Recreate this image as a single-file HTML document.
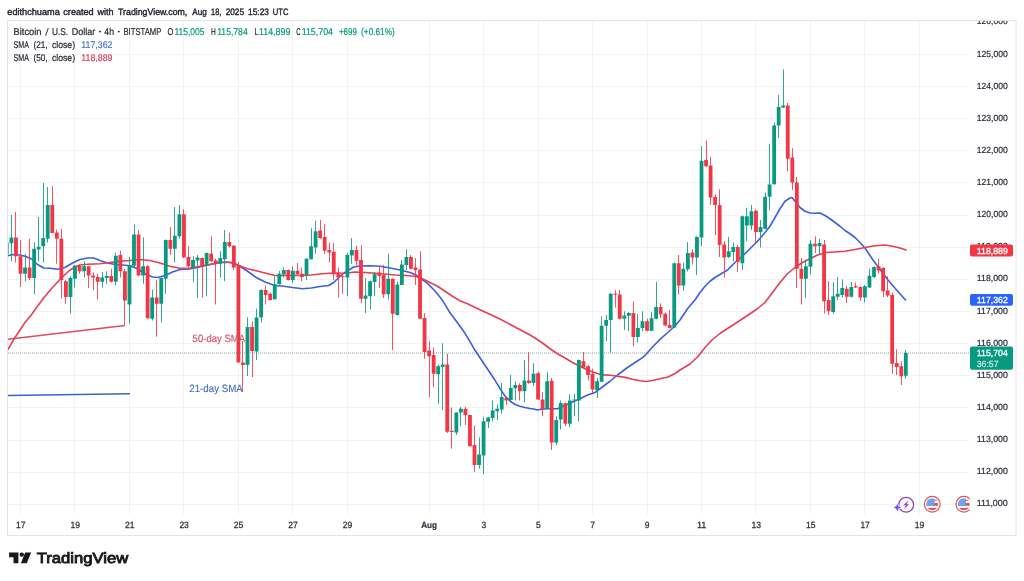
<!DOCTYPE html><html><head><meta charset="utf-8"><title>BTCUSD chart</title>
<style>html,body{margin:0;padding:0;background:#fff;}svg{display:block;will-change:transform}text{font-family:"Liberation Sans",sans-serif;text-rendering:geometricPrecision;}</style></head><body>
<svg width="1024" height="581" viewBox="0 0 1024 581">
<rect width="1024" height="581" fill="#fff"/>
<g stroke="#f2f2f2" stroke-width="1" shape-rendering="crispEdges">
<line x1="7.5" x2="969" y1="504.2" y2="504.2"/>
<line x1="7.5" x2="969" y1="472.1" y2="472.1"/>
<line x1="7.5" x2="969" y1="440.0" y2="440.0"/>
<line x1="7.5" x2="969" y1="407.8" y2="407.8"/>
<line x1="7.5" x2="969" y1="375.7" y2="375.7"/>
<line x1="7.5" x2="969" y1="343.6" y2="343.6"/>
<line x1="7.5" x2="969" y1="311.4" y2="311.4"/>
<line x1="7.5" x2="969" y1="279.3" y2="279.3"/>
<line x1="7.5" x2="969" y1="247.2" y2="247.2"/>
<line x1="7.5" x2="969" y1="215.1" y2="215.1"/>
<line x1="7.5" x2="969" y1="182.9" y2="182.9"/>
<line x1="7.5" x2="969" y1="150.8" y2="150.8"/>
<line x1="7.5" x2="969" y1="118.7" y2="118.7"/>
<line x1="7.5" x2="969" y1="86.5" y2="86.5"/>
<line x1="7.5" x2="969" y1="54.4" y2="54.4"/>
<line x1="20.5" x2="20.5" y1="20.5" y2="514"/>
<line x1="74.5" x2="74.5" y1="20.5" y2="514"/>
<line x1="129.5" x2="129.5" y1="20.5" y2="514"/>
<line x1="183.5" x2="183.5" y1="20.5" y2="514"/>
<line x1="238.5" x2="238.5" y1="20.5" y2="514"/>
<line x1="292.5" x2="292.5" y1="20.5" y2="514"/>
<line x1="347.5" x2="347.5" y1="20.5" y2="514"/>
<line x1="429.5" x2="429.5" y1="20.5" y2="514"/>
<line x1="483.5" x2="483.5" y1="20.5" y2="514"/>
<line x1="538.5" x2="538.5" y1="20.5" y2="514"/>
<line x1="592.5" x2="592.5" y1="20.5" y2="514"/>
<line x1="647.5" x2="647.5" y1="20.5" y2="514"/>
<line x1="701.5" x2="701.5" y1="20.5" y2="514"/>
<line x1="755.5" x2="755.5" y1="20.5" y2="514"/>
<line x1="810.5" x2="810.5" y1="20.5" y2="514"/>
<line x1="864.5" x2="864.5" y1="20.5" y2="514"/>
<line x1="919.5" x2="919.5" y1="20.5" y2="514"/>
</g>
<rect x="7.5" y="20.5" width="1008.5" height="515" fill="none" stroke="#e4e4e6" stroke-width="1"/>
<clipPath id="pane"><rect x="8" y="21" width="961.5" height="493"/></clipPath>
<g clip-path="url(#pane)">
<line x1="8" x2="969.5" y1="353" y2="353" stroke="#84aba0" stroke-width="1" stroke-dasharray="1 1"/>
<path d="M8.00 255.75 L12.50 254.50 L20.00 255.00 L25.00 256.25 L31.25 258.75 L37.50 264.50 L43.75 268.00 L50.00 268.25 L57.50 269.25 L65.00 267.50 L72.50 263.00 L80.00 259.50 L87.50 258.00 L93.75 258.00 L100.00 260.50 L107.50 263.00 L115.00 264.50 L122.50 265.00 L130.00 265.75 L137.50 268.75 L145.00 273.75 L152.50 277.00 L157.50 277.50 L165.00 275.50 L172.50 272.00 L180.00 269.50 L187.50 269.25 L195.00 268.00 L202.50 266.25 L210.00 264.50 L217.50 263.00 L225.00 262.00 L232.50 262.50 L238.75 265.50 L247.50 271.25 L256.25 277.50 L265.00 282.00 L275.00 285.50 L283.75 286.25 L292.50 287.50 L302.50 288.75 L311.25 288.00 L320.00 286.50 L328.75 285.50 L333.75 282.50 L338.75 277.50 L343.75 273.25 L348.75 270.00 L353.75 267.00 L360.00 266.00 L370.00 265.75 L380.00 266.25 L390.00 268.00 L400.00 270.00 L410.00 272.50 L416.25 275.00 L420.00 278.00 L427.50 283.38 L435.00 291.03 L442.50 300.30 L450.00 312.80 L457.50 322.80 L465.00 333.30 L470.00 341.55 L475.00 350.30 L480.00 357.80 L485.00 365.30 L490.00 372.80 L495.00 380.30 L500.00 388.45 L505.00 396.09 L510.00 400.99 L515.00 404.50 L520.00 406.25 L525.00 407.50 L530.00 408.50 L533.75 409.00 L537.50 410.00 L542.50 409.00 L550.00 408.75 L557.50 408.75 L565.00 405.50 L572.50 402.00 L580.00 398.75 L587.50 395.00 L595.00 392.50 L600.00 388.75 L605.00 385.00 L610.00 381.25 L617.50 375.00 L627.50 367.50 L635.00 362.50 L642.50 357.70 L645.00 355.50 L652.50 347.00 L660.00 339.40 L670.00 330.50 L675.00 326.00 L680.00 320.00 L687.50 308.75 L695.00 300.00 L700.00 292.50 L705.00 286.25 L710.00 281.25 L715.00 277.50 L720.00 274.50 L727.50 270.00 L735.00 262.50 L742.50 256.00 L750.00 248.75 L757.50 241.25 L765.00 232.50 L770.00 226.25 L775.00 217.50 L780.00 208.75 L785.00 201.25 L790.00 198.00 L792.00 197.50 L795.00 201.25 L800.00 207.50 L805.00 211.25 L810.00 213.00 L815.00 213.25 L820.00 213.00 L825.00 215.50 L830.00 218.75 L835.00 222.50 L840.00 226.25 L845.00 230.50 L850.00 233.75 L855.00 237.50 L860.00 242.50 L865.00 248.00 L873.00 260.00 L880.50 270.00 L888.00 280.00 L895.50 288.75 L905.50 300.00" fill="none" stroke="#3a5fe0" stroke-width="1.6" stroke-linejoin="round" stroke-linecap="round"/>
<path d="M8.00 349.25 L15.00 337.50 L25.00 322.50 L31.25 315.00 L37.50 306.25 L45.00 296.25 L52.50 287.50 L60.00 279.50 L65.00 274.50 L70.00 270.00 L75.00 267.00 L80.00 265.00 L87.50 264.25 L100.00 263.75 L110.00 262.50 L120.00 261.25 L130.00 260.50 L140.00 259.50 L150.00 260.50 L160.00 263.00 L170.00 266.25 L180.00 268.25 L190.00 268.00 L200.00 266.25 L210.00 264.50 L220.00 262.50 L230.00 262.50 L238.75 265.50 L247.50 268.75 L256.25 270.75 L265.00 273.00 L275.00 275.50 L283.75 275.50 L292.50 275.50 L302.50 275.50 L311.25 275.00 L320.00 274.00 L328.75 273.25 L337.50 273.25 L347.50 273.00 L355.00 272.00 L365.00 272.50 L375.00 273.25 L385.00 274.00 L395.00 275.00 L405.00 275.50 L415.00 276.25 L422.50 278.75 L430.00 282.50 L437.50 286.25 L445.00 291.25 L452.50 296.25 L460.00 300.75 L467.50 303.75 L476.25 308.00 L486.00 312.50 L500.00 319.00 L515.00 327.00 L530.00 335.00 L535.00 338.00 L542.50 343.00 L550.00 348.75 L557.50 353.75 L565.00 358.00 L572.50 362.50 L580.00 366.25 L587.50 370.00 L595.00 372.70 L602.50 374.90 L610.00 375.30 L617.50 376.20 L625.00 377.40 L632.50 379.20 L640.00 380.70 L646.00 381.50 L652.00 380.50 L660.00 378.70 L668.00 377.00 L675.00 373.50 L680.00 370.00 L690.00 364.00 L697.50 357.00 L705.00 347.50 L712.50 339.50 L720.00 333.50 L727.50 328.50 L735.00 323.75 L742.50 318.75 L750.00 313.75 L757.50 308.75 L765.00 302.50 L772.50 292.50 L780.00 282.50 L787.50 273.75 L795.00 267.50 L802.50 262.50 L810.00 258.75 L817.50 255.00 L826.00 252.50 L835.00 252.00 L845.00 251.25 L855.00 249.50 L865.00 247.50 L875.00 245.75 L885.00 245.00 L892.50 246.25 L900.00 248.00 L906.00 250.00" fill="none" stroke="#e63e55" stroke-width="1.6" stroke-linejoin="round" stroke-linecap="round"/>
<g>
<rect x="7" y="242.5" width="1.6" height="12" fill="#089981"/>
<rect x="11" y="215.00" width="1" height="46.25" fill="#089981" opacity="0.85"/>
<rect x="9.52" y="237.50" width="3.8" height="5.75" fill="#089981"/>
<rect x="15" y="212.00" width="1" height="50.50" fill="#F23645" opacity="0.85"/>
<rect x="14.06" y="237.50" width="3.8" height="18.75" fill="#F23645"/>
<rect x="20" y="240.00" width="1" height="47.00" fill="#F23645" opacity="0.85"/>
<rect x="18.60" y="256.25" width="3.8" height="17.50" fill="#F23645"/>
<rect x="25" y="253.75" width="1" height="27.50" fill="#089981" opacity="0.85"/>
<rect x="23.14" y="267.50" width="3.8" height="6.25" fill="#089981"/>
<rect x="29" y="238.75" width="1" height="41.25" fill="#F23645" opacity="0.85"/>
<rect x="27.68" y="267.50" width="3.8" height="10.50" fill="#F23645"/>
<rect x="34" y="242.50" width="1" height="51.75" fill="#089981" opacity="0.85"/>
<rect x="32.22" y="248.75" width="3.8" height="29.25" fill="#089981"/>
<rect x="38" y="217.00" width="1" height="44.25" fill="#089981" opacity="0.85"/>
<rect x="36.76" y="246.75" width="3.8" height="2.75" fill="#089981"/>
<rect x="43" y="183.00" width="1" height="79.50" fill="#089981" opacity="0.85"/>
<rect x="41.30" y="238.00" width="3.8" height="8.25" fill="#089981"/>
<rect x="47" y="187.00" width="1" height="55.50" fill="#089981" opacity="0.85"/>
<rect x="45.84" y="205.00" width="3.8" height="33.75" fill="#089981"/>
<rect x="52" y="186.25" width="1" height="46.75" fill="#F23645" opacity="0.85"/>
<rect x="50.38" y="205.00" width="3.8" height="28.00" fill="#F23645"/>
<rect x="56" y="229.50" width="1" height="34.25" fill="#F23645" opacity="0.85"/>
<rect x="54.92" y="232.50" width="3.8" height="6.25" fill="#F23645"/>
<rect x="61" y="228.75" width="1" height="70.00" fill="#F23645" opacity="0.85"/>
<rect x="59.46" y="238.75" width="3.8" height="41.25" fill="#F23645"/>
<rect x="65" y="280.00" width="1" height="23.75" fill="#F23645" opacity="0.85"/>
<rect x="64.00" y="281.25" width="3.8" height="15.75" fill="#F23645"/>
<rect x="70" y="276.25" width="1" height="37.50" fill="#089981" opacity="0.85"/>
<rect x="68.54" y="278.00" width="3.8" height="19.00" fill="#089981"/>
<rect x="74" y="265.00" width="1" height="22.50" fill="#089981" opacity="0.85"/>
<rect x="73.08" y="265.75" width="3.8" height="13.00" fill="#089981"/>
<rect x="79" y="264.50" width="1" height="9.25" fill="#F23645" opacity="0.85"/>
<rect x="77.62" y="265.75" width="3.8" height="5.50" fill="#F23645"/>
<rect x="84" y="261.25" width="1" height="16.25" fill="#089981" opacity="0.85"/>
<rect x="82.16" y="266.25" width="3.8" height="5.00" fill="#089981"/>
<rect x="88" y="266.25" width="1" height="21.75" fill="#F23645" opacity="0.85"/>
<rect x="86.70" y="266.25" width="3.8" height="9.25" fill="#F23645"/>
<rect x="93" y="272.50" width="1" height="17.50" fill="#F23645" opacity="0.85"/>
<rect x="91.24" y="275.50" width="3.8" height="2.00" fill="#F23645"/>
<rect x="97" y="273.75" width="1" height="25.75" fill="#F23645" opacity="0.85"/>
<rect x="95.78" y="277.00" width="3.8" height="4.75" fill="#F23645"/>
<rect x="102" y="272.00" width="1" height="15.50" fill="#089981" opacity="0.85"/>
<rect x="100.32" y="277.50" width="3.8" height="4.25" fill="#089981"/>
<rect x="106" y="271.25" width="1" height="12.50" fill="#089981" opacity="0.85"/>
<rect x="104.86" y="276.00" width="3.8" height="2.00" fill="#089981"/>
<rect x="111" y="268.75" width="1" height="13.75" fill="#F23645" opacity="0.85"/>
<rect x="109.40" y="276.00" width="3.8" height="5.75" fill="#F23645"/>
<rect x="115" y="252.50" width="1" height="33.00" fill="#089981" opacity="0.85"/>
<rect x="113.94" y="255.75" width="3.8" height="26.00" fill="#089981"/>
<rect x="120" y="250.50" width="1" height="27.00" fill="#F23645" opacity="0.85"/>
<rect x="118.48" y="255.00" width="3.8" height="16.25" fill="#F23645"/>
<rect x="124" y="268.75" width="1" height="56.75" fill="#F23645" opacity="0.85"/>
<rect x="123.02" y="271.25" width="3.8" height="29.25" fill="#F23645"/>
<rect x="129" y="257.00" width="1" height="66.75" fill="#089981" opacity="0.85"/>
<rect x="127.56" y="265.00" width="3.8" height="39.50" fill="#089981"/>
<rect x="134" y="224.50" width="1" height="43.00" fill="#089981" opacity="0.85"/>
<rect x="132.10" y="234.50" width="3.8" height="31.25" fill="#089981"/>
<rect x="138" y="230.00" width="1" height="46.25" fill="#F23645" opacity="0.85"/>
<rect x="136.64" y="234.50" width="3.8" height="41.00" fill="#F23645"/>
<rect x="143" y="237.50" width="1" height="46.25" fill="#089981" opacity="0.85"/>
<rect x="141.18" y="266.25" width="3.8" height="9.25" fill="#089981"/>
<rect x="147" y="265.00" width="1" height="53.50" fill="#F23645" opacity="0.85"/>
<rect x="145.72" y="266.25" width="3.8" height="52.00" fill="#F23645"/>
<rect x="152" y="289.50" width="1" height="31.00" fill="#089981" opacity="0.85"/>
<rect x="150.26" y="297.50" width="3.8" height="21.25" fill="#089981"/>
<rect x="156" y="280.00" width="1" height="56.75" fill="#F23645" opacity="0.85"/>
<rect x="154.80" y="297.50" width="3.8" height="6.25" fill="#F23645"/>
<rect x="161" y="277.50" width="1" height="45.00" fill="#089981" opacity="0.85"/>
<rect x="159.34" y="278.00" width="3.8" height="25.75" fill="#089981"/>
<rect x="165" y="239.50" width="1" height="54.25" fill="#089981" opacity="0.85"/>
<rect x="163.88" y="240.00" width="3.8" height="38.75" fill="#089981"/>
<rect x="170" y="227.00" width="1" height="28.00" fill="#F23645" opacity="0.85"/>
<rect x="168.42" y="240.00" width="3.8" height="8.75" fill="#F23645"/>
<rect x="174" y="207.00" width="1" height="55.50" fill="#089981" opacity="0.85"/>
<rect x="172.96" y="235.75" width="3.8" height="13.00" fill="#089981"/>
<rect x="179" y="205.00" width="1" height="33.75" fill="#089981" opacity="0.85"/>
<rect x="177.50" y="214.25" width="3.8" height="22.00" fill="#089981"/>
<rect x="183" y="209.25" width="1" height="48.75" fill="#F23645" opacity="0.85"/>
<rect x="182.04" y="214.25" width="3.8" height="43.25" fill="#F23645"/>
<rect x="188" y="246.25" width="1" height="21.25" fill="#F23645" opacity="0.85"/>
<rect x="186.58" y="257.00" width="3.8" height="9.25" fill="#F23645"/>
<rect x="193" y="256.25" width="1" height="25.50" fill="#089981" opacity="0.85"/>
<rect x="191.12" y="260.00" width="3.8" height="7.00" fill="#089981"/>
<rect x="197" y="255.00" width="1" height="43.00" fill="#089981" opacity="0.85"/>
<rect x="195.66" y="257.50" width="3.8" height="3.00" fill="#089981"/>
<rect x="202" y="257.50" width="1" height="40.00" fill="#F23645" opacity="0.85"/>
<rect x="200.20" y="258.00" width="3.8" height="8.25" fill="#F23645"/>
<rect x="206" y="252.50" width="1" height="43.75" fill="#089981" opacity="0.85"/>
<rect x="204.74" y="253.00" width="3.8" height="12.00" fill="#089981"/>
<rect x="211" y="236.25" width="1" height="25.75" fill="#F23645" opacity="0.85"/>
<rect x="209.28" y="253.75" width="3.8" height="7.50" fill="#F23645"/>
<rect x="215" y="258.75" width="1" height="45.75" fill="#F23645" opacity="0.85"/>
<rect x="213.82" y="260.50" width="3.8" height="3.25" fill="#F23645"/>
<rect x="220" y="251.25" width="1" height="26.25" fill="#089981" opacity="0.85"/>
<rect x="218.36" y="258.00" width="3.8" height="5.75" fill="#089981"/>
<rect x="224" y="230.00" width="1" height="51.25" fill="#089981" opacity="0.85"/>
<rect x="222.90" y="242.00" width="3.8" height="17.25" fill="#089981"/>
<rect x="229" y="232.50" width="1" height="15.00" fill="#F23645" opacity="0.85"/>
<rect x="227.44" y="242.00" width="3.8" height="4.25" fill="#F23645"/>
<rect x="233" y="245.00" width="1" height="25.00" fill="#F23645" opacity="0.85"/>
<rect x="231.98" y="245.75" width="3.8" height="21.75" fill="#F23645"/>
<rect x="238" y="262.00" width="1" height="100.50" fill="#F23645" opacity="0.85"/>
<rect x="236.52" y="266.00" width="3.8" height="96.50" fill="#F23645"/>
<rect x="242" y="341.00" width="1" height="51.00" fill="#F23645" opacity="0.85"/>
<rect x="241.06" y="362.50" width="3.8" height="2.50" fill="#F23645"/>
<rect x="247" y="317.50" width="1" height="58.50" fill="#089981" opacity="0.85"/>
<rect x="245.60" y="327.00" width="3.8" height="38.00" fill="#089981"/>
<rect x="252" y="321.50" width="1" height="55.50" fill="#F23645" opacity="0.85"/>
<rect x="250.14" y="327.00" width="3.8" height="24.00" fill="#F23645"/>
<rect x="256" y="308.75" width="1" height="51.25" fill="#089981" opacity="0.85"/>
<rect x="254.68" y="317.50" width="3.8" height="34.00" fill="#089981"/>
<rect x="261" y="289.25" width="1" height="33.25" fill="#089981" opacity="0.85"/>
<rect x="259.22" y="290.00" width="3.8" height="27.50" fill="#089981"/>
<rect x="265" y="285.75" width="1" height="18.75" fill="#F23645" opacity="0.85"/>
<rect x="263.76" y="290.00" width="3.8" height="5.00" fill="#F23645"/>
<rect x="270" y="292.50" width="1" height="8.00" fill="#F23645" opacity="0.85"/>
<rect x="268.30" y="293.75" width="3.8" height="6.25" fill="#F23645"/>
<rect x="274" y="276.25" width="1" height="23.25" fill="#089981" opacity="0.85"/>
<rect x="272.84" y="284.25" width="3.8" height="15.00" fill="#089981"/>
<rect x="279" y="270.75" width="1" height="13.75" fill="#089981" opacity="0.85"/>
<rect x="277.38" y="273.75" width="3.8" height="10.50" fill="#089981"/>
<rect x="283" y="267.50" width="1" height="10.00" fill="#089981" opacity="0.85"/>
<rect x="281.92" y="270.00" width="3.8" height="4.50" fill="#089981"/>
<rect x="288" y="269.50" width="1" height="11.00" fill="#F23645" opacity="0.85"/>
<rect x="286.46" y="270.00" width="3.8" height="10.00" fill="#F23645"/>
<rect x="292" y="266.25" width="1" height="16.75" fill="#089981" opacity="0.85"/>
<rect x="291.00" y="270.75" width="3.8" height="9.25" fill="#089981"/>
<rect x="297" y="263.00" width="1" height="12.00" fill="#F23645" opacity="0.85"/>
<rect x="295.54" y="270.75" width="3.8" height="3.50" fill="#F23645"/>
<rect x="301" y="267.50" width="1" height="13.75" fill="#F23645" opacity="0.85"/>
<rect x="300.08" y="273.75" width="3.8" height="3.25" fill="#F23645"/>
<rect x="306" y="258.25" width="1" height="21.75" fill="#089981" opacity="0.85"/>
<rect x="304.62" y="258.75" width="3.8" height="16.25" fill="#089981"/>
<rect x="311" y="228.25" width="1" height="31.25" fill="#089981" opacity="0.85"/>
<rect x="309.16" y="246.25" width="3.8" height="13.00" fill="#089981"/>
<rect x="315" y="220.75" width="1" height="33.00" fill="#089981" opacity="0.85"/>
<rect x="313.70" y="231.25" width="3.8" height="16.25" fill="#089981"/>
<rect x="320" y="220.00" width="1" height="18.75" fill="#F23645" opacity="0.85"/>
<rect x="318.24" y="230.50" width="3.8" height="7.50" fill="#F23645"/>
<rect x="324" y="224.25" width="1" height="29.50" fill="#F23645" opacity="0.85"/>
<rect x="322.78" y="237.00" width="3.8" height="13.75" fill="#F23645"/>
<rect x="329" y="242.50" width="1" height="20.00" fill="#F23645" opacity="0.85"/>
<rect x="327.32" y="250.00" width="3.8" height="2.50" fill="#F23645"/>
<rect x="333" y="243.00" width="1" height="37.00" fill="#F23645" opacity="0.85"/>
<rect x="331.86" y="251.75" width="3.8" height="22.50" fill="#F23645"/>
<rect x="338" y="267.50" width="1" height="30.00" fill="#F23645" opacity="0.85"/>
<rect x="336.40" y="272.50" width="3.8" height="5.00" fill="#F23645"/>
<rect x="342" y="273.00" width="1" height="20.75" fill="#F23645" opacity="0.85"/>
<rect x="340.94" y="276.25" width="3.8" height="1.00" fill="#F23645"/>
<rect x="347" y="253.00" width="1" height="43.25" fill="#089981" opacity="0.85"/>
<rect x="345.48" y="255.00" width="3.8" height="22.50" fill="#089981"/>
<rect x="351" y="238.00" width="1" height="25.75" fill="#089981" opacity="0.85"/>
<rect x="350.02" y="250.00" width="3.8" height="5.50" fill="#089981"/>
<rect x="356" y="245.50" width="1" height="20.00" fill="#F23645" opacity="0.85"/>
<rect x="354.56" y="250.00" width="3.8" height="10.75" fill="#F23645"/>
<rect x="361" y="245.00" width="1" height="58.00" fill="#F23645" opacity="0.85"/>
<rect x="359.10" y="260.00" width="3.8" height="38.75" fill="#F23645"/>
<rect x="365" y="278.00" width="1" height="35.00" fill="#089981" opacity="0.85"/>
<rect x="363.64" y="295.50" width="3.8" height="3.25" fill="#089981"/>
<rect x="370" y="280.75" width="1" height="28.50" fill="#089981" opacity="0.85"/>
<rect x="368.18" y="281.25" width="3.8" height="15.00" fill="#089981"/>
<rect x="374" y="272.00" width="1" height="24.25" fill="#089981" opacity="0.85"/>
<rect x="372.72" y="274.25" width="3.8" height="7.75" fill="#089981"/>
<rect x="379" y="266.25" width="1" height="21.75" fill="#F23645" opacity="0.85"/>
<rect x="377.26" y="272.50" width="3.8" height="3.25" fill="#F23645"/>
<rect x="383" y="265.00" width="1" height="33.00" fill="#F23645" opacity="0.85"/>
<rect x="381.80" y="275.00" width="3.8" height="19.25" fill="#F23645"/>
<rect x="388" y="253.75" width="1" height="45.75" fill="#089981" opacity="0.85"/>
<rect x="386.34" y="278.75" width="3.8" height="15.50" fill="#089981"/>
<rect x="392" y="278.25" width="1" height="71.75" fill="#F23645" opacity="0.85"/>
<rect x="390.88" y="278.75" width="3.8" height="35.00" fill="#F23645"/>
<rect x="397" y="282.00" width="1" height="33.50" fill="#089981" opacity="0.85"/>
<rect x="395.42" y="284.50" width="3.8" height="30.50" fill="#089981"/>
<rect x="401" y="260.00" width="1" height="25.00" fill="#089981" opacity="0.85"/>
<rect x="399.96" y="264.50" width="3.8" height="20.50" fill="#089981"/>
<rect x="406" y="249.25" width="1" height="20.75" fill="#089981" opacity="0.85"/>
<rect x="404.50" y="257.00" width="3.8" height="8.00" fill="#089981"/>
<rect x="410" y="255.00" width="1" height="14.50" fill="#F23645" opacity="0.85"/>
<rect x="409.04" y="257.00" width="3.8" height="11.75" fill="#F23645"/>
<rect x="415" y="258.00" width="1" height="27.00" fill="#F23645" opacity="0.85"/>
<rect x="413.58" y="267.50" width="3.8" height="2.50" fill="#F23645"/>
<rect x="420" y="251.25" width="1" height="67.50" fill="#F23645" opacity="0.85"/>
<rect x="418.12" y="269.50" width="3.8" height="49.25" fill="#F23645"/>
<rect x="424" y="313.00" width="1" height="45.75" fill="#F23645" opacity="0.85"/>
<rect x="422.66" y="318.00" width="3.8" height="34.00" fill="#F23645"/>
<rect x="429" y="341.25" width="1" height="55.75" fill="#F23645" opacity="0.85"/>
<rect x="427.20" y="350.50" width="3.8" height="5.75" fill="#F23645"/>
<rect x="433" y="347.50" width="1" height="39.50" fill="#F23645" opacity="0.85"/>
<rect x="431.74" y="355.00" width="3.8" height="18.75" fill="#F23645"/>
<rect x="438" y="364.50" width="1" height="39.25" fill="#089981" opacity="0.85"/>
<rect x="436.28" y="366.25" width="3.8" height="8.00" fill="#089981"/>
<rect x="442" y="343.25" width="1" height="66.75" fill="#089981" opacity="0.85"/>
<rect x="440.82" y="364.50" width="3.8" height="2.50" fill="#089981"/>
<rect x="447" y="353.75" width="1" height="79.25" fill="#F23645" opacity="0.85"/>
<rect x="445.36" y="364.50" width="3.8" height="67.25" fill="#F23645"/>
<rect x="451" y="407.50" width="1" height="41.25" fill="#F23645" opacity="0.85"/>
<rect x="449.90" y="430.75" width="3.8" height="1.25" fill="#F23645"/>
<rect x="456" y="412.00" width="1" height="23.00" fill="#089981" opacity="0.85"/>
<rect x="454.44" y="412.50" width="3.8" height="20.00" fill="#089981"/>
<rect x="460" y="407.00" width="1" height="19.25" fill="#089981" opacity="0.85"/>
<rect x="458.98" y="408.75" width="3.8" height="3.75" fill="#089981"/>
<rect x="465" y="406.75" width="1" height="18.25" fill="#F23645" opacity="0.85"/>
<rect x="463.52" y="408.75" width="3.8" height="6.25" fill="#F23645"/>
<rect x="469" y="414.50" width="1" height="31.75" fill="#F23645" opacity="0.85"/>
<rect x="468.06" y="415.00" width="3.8" height="31.25" fill="#F23645"/>
<rect x="474" y="425.50" width="1" height="46.50" fill="#F23645" opacity="0.85"/>
<rect x="472.60" y="445.00" width="3.8" height="20.00" fill="#F23645"/>
<rect x="479" y="437.50" width="1" height="31.25" fill="#089981" opacity="0.85"/>
<rect x="477.14" y="454.50" width="3.8" height="10.50" fill="#089981"/>
<rect x="483" y="416.75" width="1" height="57.50" fill="#089981" opacity="0.85"/>
<rect x="481.68" y="421.25" width="3.8" height="34.25" fill="#089981"/>
<rect x="488" y="417.00" width="1" height="11.00" fill="#089981" opacity="0.85"/>
<rect x="486.22" y="417.50" width="3.8" height="4.25" fill="#089981"/>
<rect x="492" y="400.50" width="1" height="20.75" fill="#089981" opacity="0.85"/>
<rect x="490.76" y="410.50" width="3.8" height="7.50" fill="#089981"/>
<rect x="497" y="404.50" width="1" height="15.50" fill="#089981" opacity="0.85"/>
<rect x="495.30" y="408.75" width="3.8" height="2.50" fill="#089981"/>
<rect x="501" y="383.00" width="1" height="30.75" fill="#089981" opacity="0.85"/>
<rect x="499.84" y="397.00" width="3.8" height="12.50" fill="#089981"/>
<rect x="506" y="397.50" width="1" height="7.50" fill="#F23645" opacity="0.85"/>
<rect x="504.38" y="398.00" width="3.8" height="2.50" fill="#F23645"/>
<rect x="510" y="375.00" width="1" height="25.50" fill="#089981" opacity="0.85"/>
<rect x="508.92" y="388.00" width="3.8" height="12.00" fill="#089981"/>
<rect x="515" y="381.25" width="1" height="19.25" fill="#089981" opacity="0.85"/>
<rect x="513.46" y="385.00" width="3.8" height="3.25" fill="#089981"/>
<rect x="519" y="383.25" width="1" height="17.25" fill="#F23645" opacity="0.85"/>
<rect x="518.00" y="385.00" width="3.8" height="6.25" fill="#F23645"/>
<rect x="524" y="360.00" width="1" height="42.50" fill="#089981" opacity="0.85"/>
<rect x="522.54" y="380.50" width="3.8" height="10.75" fill="#089981"/>
<rect x="528" y="352.00" width="1" height="31.75" fill="#F23645" opacity="0.85"/>
<rect x="527.08" y="380.50" width="3.8" height="2.50" fill="#F23645"/>
<rect x="533" y="363.25" width="1" height="23.00" fill="#089981" opacity="0.85"/>
<rect x="531.62" y="373.75" width="3.8" height="9.25" fill="#089981"/>
<rect x="538" y="372.00" width="1" height="28.00" fill="#F23645" opacity="0.85"/>
<rect x="536.16" y="373.25" width="3.8" height="26.25" fill="#F23645"/>
<rect x="542" y="392.00" width="1" height="24.25" fill="#F23645" opacity="0.85"/>
<rect x="540.70" y="399.50" width="3.8" height="9.75" fill="#F23645"/>
<rect x="547" y="372.50" width="1" height="36.75" fill="#089981" opacity="0.85"/>
<rect x="545.24" y="381.25" width="3.8" height="27.50" fill="#089981"/>
<rect x="551" y="378.00" width="1" height="72.00" fill="#F23645" opacity="0.85"/>
<rect x="549.78" y="380.75" width="3.8" height="61.75" fill="#F23645"/>
<rect x="556" y="416.25" width="1" height="28.75" fill="#089981" opacity="0.85"/>
<rect x="554.32" y="420.00" width="3.8" height="22.50" fill="#089981"/>
<rect x="560" y="400.50" width="1" height="29.00" fill="#089981" opacity="0.85"/>
<rect x="558.86" y="403.00" width="3.8" height="16.50" fill="#089981"/>
<rect x="565" y="402.50" width="1" height="23.75" fill="#F23645" opacity="0.85"/>
<rect x="563.40" y="403.25" width="3.8" height="20.50" fill="#F23645"/>
<rect x="569" y="394.50" width="1" height="32.50" fill="#089981" opacity="0.85"/>
<rect x="567.94" y="400.50" width="3.8" height="23.25" fill="#089981"/>
<rect x="574" y="393.75" width="1" height="22.50" fill="#089981" opacity="0.85"/>
<rect x="572.48" y="399.50" width="3.8" height="1.00" fill="#089981"/>
<rect x="578" y="359.50" width="1" height="61.75" fill="#089981" opacity="0.85"/>
<rect x="577.02" y="360.00" width="3.8" height="40.50" fill="#089981"/>
<rect x="583" y="352.00" width="1" height="16.00" fill="#F23645" opacity="0.85"/>
<rect x="581.56" y="361.25" width="3.8" height="6.25" fill="#F23645"/>
<rect x="588" y="365.00" width="1" height="15.50" fill="#F23645" opacity="0.85"/>
<rect x="586.10" y="366.25" width="3.8" height="8.75" fill="#F23645"/>
<rect x="592" y="368.75" width="1" height="24.25" fill="#F23645" opacity="0.85"/>
<rect x="590.64" y="373.75" width="3.8" height="15.75" fill="#F23645"/>
<rect x="597" y="378.00" width="1" height="20.00" fill="#089981" opacity="0.85"/>
<rect x="595.18" y="381.25" width="3.8" height="8.75" fill="#089981"/>
<rect x="601" y="316.25" width="1" height="65.75" fill="#089981" opacity="0.85"/>
<rect x="599.72" y="325.75" width="3.8" height="56.00" fill="#089981"/>
<rect x="606" y="315.00" width="1" height="26.25" fill="#089981" opacity="0.85"/>
<rect x="604.26" y="320.00" width="3.8" height="5.75" fill="#089981"/>
<rect x="610" y="293.00" width="1" height="59.50" fill="#089981" opacity="0.85"/>
<rect x="608.80" y="293.75" width="3.8" height="26.25" fill="#089981"/>
<rect x="615" y="290.00" width="1" height="17.50" fill="#F23645" opacity="0.85"/>
<rect x="613.34" y="293.75" width="3.8" height="1.00" fill="#F23645"/>
<rect x="619" y="290.00" width="1" height="29.50" fill="#F23645" opacity="0.85"/>
<rect x="617.88" y="294.50" width="3.8" height="24.25" fill="#F23645"/>
<rect x="624" y="311.25" width="1" height="18.75" fill="#089981" opacity="0.85"/>
<rect x="622.42" y="315.50" width="3.8" height="3.25" fill="#089981"/>
<rect x="628" y="312.00" width="1" height="19.25" fill="#089981" opacity="0.85"/>
<rect x="626.96" y="313.00" width="3.8" height="2.75" fill="#089981"/>
<rect x="633" y="301.25" width="1" height="45.00" fill="#F23645" opacity="0.85"/>
<rect x="631.50" y="313.00" width="3.8" height="24.00" fill="#F23645"/>
<rect x="637" y="313.75" width="1" height="28.75" fill="#089981" opacity="0.85"/>
<rect x="636.04" y="328.00" width="3.8" height="9.00" fill="#089981"/>
<rect x="642" y="311.25" width="1" height="20.00" fill="#089981" opacity="0.85"/>
<rect x="640.58" y="321.25" width="3.8" height="6.75" fill="#089981"/>
<rect x="647" y="318.75" width="1" height="12.50" fill="#F23645" opacity="0.85"/>
<rect x="645.12" y="321.25" width="3.8" height="9.50" fill="#F23645"/>
<rect x="651" y="312.00" width="1" height="19.25" fill="#089981" opacity="0.85"/>
<rect x="649.66" y="318.25" width="3.8" height="12.50" fill="#089981"/>
<rect x="656" y="281.75" width="1" height="37.50" fill="#089981" opacity="0.85"/>
<rect x="654.20" y="307.00" width="3.8" height="11.75" fill="#089981"/>
<rect x="660" y="303.25" width="1" height="14.75" fill="#F23645" opacity="0.85"/>
<rect x="658.74" y="307.00" width="3.8" height="7.25" fill="#F23645"/>
<rect x="665" y="312.50" width="1" height="13.75" fill="#F23645" opacity="0.85"/>
<rect x="663.28" y="313.75" width="3.8" height="11.75" fill="#F23645"/>
<rect x="669" y="310.00" width="1" height="18.75" fill="#F23645" opacity="0.85"/>
<rect x="667.82" y="325.00" width="3.8" height="3.00" fill="#F23645"/>
<rect x="674" y="262.50" width="1" height="65.50" fill="#089981" opacity="0.85"/>
<rect x="672.36" y="263.25" width="3.8" height="64.25" fill="#089981"/>
<rect x="678" y="255.00" width="1" height="39.50" fill="#F23645" opacity="0.85"/>
<rect x="676.90" y="263.25" width="3.8" height="22.25" fill="#F23645"/>
<rect x="683" y="262.50" width="1" height="28.25" fill="#089981" opacity="0.85"/>
<rect x="681.44" y="268.75" width="3.8" height="16.75" fill="#089981"/>
<rect x="687" y="242.00" width="1" height="29.25" fill="#089981" opacity="0.85"/>
<rect x="685.98" y="253.00" width="3.8" height="16.25" fill="#089981"/>
<rect x="692" y="249.50" width="1" height="15.00" fill="#F23645" opacity="0.85"/>
<rect x="690.52" y="252.50" width="3.8" height="5.00" fill="#F23645"/>
<rect x="696" y="236.25" width="1" height="38.75" fill="#089981" opacity="0.85"/>
<rect x="695.06" y="237.00" width="3.8" height="20.50" fill="#089981"/>
<rect x="701" y="146.25" width="1" height="100.00" fill="#089981" opacity="0.85"/>
<rect x="699.60" y="160.75" width="3.8" height="76.75" fill="#089981"/>
<rect x="706" y="140.50" width="1" height="26.50" fill="#F23645" opacity="0.85"/>
<rect x="704.14" y="160.00" width="3.8" height="6.25" fill="#F23645"/>
<rect x="710" y="157.00" width="1" height="48.00" fill="#F23645" opacity="0.85"/>
<rect x="708.68" y="165.50" width="3.8" height="32.00" fill="#F23645"/>
<rect x="715" y="194.50" width="1" height="40.50" fill="#F23645" opacity="0.85"/>
<rect x="713.22" y="197.00" width="3.8" height="8.00" fill="#F23645"/>
<rect x="719" y="189.50" width="1" height="67.50" fill="#F23645" opacity="0.85"/>
<rect x="717.76" y="205.00" width="3.8" height="40.00" fill="#F23645"/>
<rect x="724" y="241.25" width="1" height="36.25" fill="#F23645" opacity="0.85"/>
<rect x="722.30" y="244.50" width="3.8" height="13.00" fill="#F23645"/>
<rect x="728" y="237.00" width="1" height="21.00" fill="#089981" opacity="0.85"/>
<rect x="726.84" y="251.25" width="3.8" height="5.75" fill="#089981"/>
<rect x="733" y="242.50" width="1" height="18.75" fill="#089981" opacity="0.85"/>
<rect x="731.38" y="247.00" width="3.8" height="5.00" fill="#089981"/>
<rect x="737" y="245.00" width="1" height="27.00" fill="#F23645" opacity="0.85"/>
<rect x="735.92" y="247.00" width="3.8" height="15.00" fill="#F23645"/>
<rect x="742" y="215.50" width="1" height="54.50" fill="#089981" opacity="0.85"/>
<rect x="740.46" y="216.25" width="3.8" height="47.00" fill="#089981"/>
<rect x="746" y="208.00" width="1" height="33.25" fill="#089981" opacity="0.85"/>
<rect x="745.00" y="216.25" width="3.8" height="9.25" fill="#089981"/>
<rect x="751" y="205.00" width="1" height="25.00" fill="#089981" opacity="0.85"/>
<rect x="749.54" y="211.25" width="3.8" height="14.25" fill="#089981"/>
<rect x="755" y="209.50" width="1" height="34.25" fill="#F23645" opacity="0.85"/>
<rect x="754.08" y="210.75" width="3.8" height="21.25" fill="#F23645"/>
<rect x="760" y="220.00" width="1" height="27.50" fill="#089981" opacity="0.85"/>
<rect x="758.62" y="227.00" width="3.8" height="5.00" fill="#089981"/>
<rect x="765" y="192.50" width="1" height="37.00" fill="#089981" opacity="0.85"/>
<rect x="763.16" y="196.75" width="3.8" height="32.00" fill="#089981"/>
<rect x="769" y="143.75" width="1" height="66.25" fill="#089981" opacity="0.85"/>
<rect x="767.70" y="184.50" width="3.8" height="12.25" fill="#089981"/>
<rect x="774" y="122.50" width="1" height="62.00" fill="#089981" opacity="0.85"/>
<rect x="772.24" y="125.50" width="3.8" height="58.75" fill="#089981"/>
<rect x="778" y="95.00" width="1" height="43.00" fill="#089981" opacity="0.85"/>
<rect x="776.78" y="107.00" width="3.8" height="18.50" fill="#089981"/>
<rect x="783" y="69.50" width="1" height="38.50" fill="#089981" opacity="0.85"/>
<rect x="781.32" y="105.50" width="3.8" height="2.00" fill="#089981"/>
<rect x="787" y="103.00" width="1" height="68.25" fill="#F23645" opacity="0.85"/>
<rect x="785.86" y="105.50" width="3.8" height="53.25" fill="#F23645"/>
<rect x="792" y="148.25" width="1" height="41.75" fill="#F23645" opacity="0.85"/>
<rect x="790.40" y="157.50" width="3.8" height="25.00" fill="#F23645"/>
<rect x="796" y="177.00" width="1" height="111.00" fill="#F23645" opacity="0.85"/>
<rect x="794.94" y="182.50" width="3.8" height="86.25" fill="#F23645"/>
<rect x="801" y="258.00" width="1" height="46.50" fill="#F23645" opacity="0.85"/>
<rect x="799.48" y="268.75" width="3.8" height="10.00" fill="#F23645"/>
<rect x="805" y="259.50" width="1" height="38.00" fill="#089981" opacity="0.85"/>
<rect x="804.02" y="266.25" width="3.8" height="12.50" fill="#089981"/>
<rect x="810" y="240.00" width="1" height="34.50" fill="#089981" opacity="0.85"/>
<rect x="808.56" y="243.75" width="3.8" height="23.00" fill="#089981"/>
<rect x="815" y="236.25" width="1" height="16.75" fill="#F23645" opacity="0.85"/>
<rect x="813.10" y="243.75" width="3.8" height="2.50" fill="#F23645"/>
<rect x="819" y="238.75" width="1" height="15.75" fill="#089981" opacity="0.85"/>
<rect x="817.64" y="243.00" width="3.8" height="3.25" fill="#089981"/>
<rect x="824" y="240.00" width="1" height="73.50" fill="#F23645" opacity="0.85"/>
<rect x="822.18" y="244.50" width="3.8" height="56.75" fill="#F23645"/>
<rect x="828" y="281.25" width="1" height="33.75" fill="#F23645" opacity="0.85"/>
<rect x="826.72" y="300.00" width="3.8" height="11.25" fill="#F23645"/>
<rect x="833" y="282.00" width="1" height="31.75" fill="#089981" opacity="0.85"/>
<rect x="831.26" y="296.25" width="3.8" height="15.75" fill="#089981"/>
<rect x="837" y="277.00" width="1" height="23.00" fill="#089981" opacity="0.85"/>
<rect x="835.80" y="293.75" width="3.8" height="3.00" fill="#089981"/>
<rect x="842" y="279.50" width="1" height="18.00" fill="#089981" opacity="0.85"/>
<rect x="840.34" y="288.00" width="3.8" height="7.00" fill="#089981"/>
<rect x="846" y="285.75" width="1" height="17.25" fill="#F23645" opacity="0.85"/>
<rect x="844.88" y="288.75" width="3.8" height="8.00" fill="#F23645"/>
<rect x="851" y="282.00" width="1" height="15.50" fill="#089981" opacity="0.85"/>
<rect x="849.42" y="287.00" width="3.8" height="9.75" fill="#089981"/>
<rect x="855" y="282.50" width="1" height="5.50" fill="#F23645" opacity="0.85"/>
<rect x="853.96" y="286.25" width="3.8" height="1.25" fill="#F23645"/>
<rect x="860" y="286.25" width="1" height="14.50" fill="#F23645" opacity="0.85"/>
<rect x="858.50" y="287.00" width="3.8" height="10.50" fill="#F23645"/>
<rect x="864" y="285.00" width="1" height="17.50" fill="#089981" opacity="0.85"/>
<rect x="863.04" y="286.25" width="3.8" height="11.25" fill="#089981"/>
<rect x="869" y="268.75" width="1" height="19.25" fill="#089981" opacity="0.85"/>
<rect x="867.58" y="275.75" width="3.8" height="11.75" fill="#089981"/>
<rect x="874" y="266.25" width="1" height="11.75" fill="#089981" opacity="0.85"/>
<rect x="872.12" y="267.00" width="3.8" height="10.00" fill="#089981"/>
<rect x="878" y="258.75" width="1" height="15.00" fill="#F23645" opacity="0.85"/>
<rect x="876.66" y="266.25" width="3.8" height="4.25" fill="#F23645"/>
<rect x="883" y="267.00" width="1" height="30.00" fill="#F23645" opacity="0.85"/>
<rect x="881.20" y="268.00" width="3.8" height="23.25" fill="#F23645"/>
<rect x="887" y="276.25" width="1" height="20.75" fill="#F23645" opacity="0.85"/>
<rect x="885.74" y="290.50" width="3.8" height="5.00" fill="#F23645"/>
<rect x="892" y="292.50" width="1" height="81.25" fill="#F23645" opacity="0.85"/>
<rect x="890.28" y="295.00" width="3.8" height="68.75" fill="#F23645"/>
<rect x="896" y="349.50" width="1" height="25.50" fill="#F23645" opacity="0.85"/>
<rect x="894.82" y="363.00" width="3.8" height="4.00" fill="#F23645"/>
<rect x="901" y="361.25" width="1" height="23.75" fill="#F23645" opacity="0.85"/>
<rect x="899.36" y="366.25" width="3.8" height="10.00" fill="#F23645"/>
<rect x="905" y="350.00" width="1" height="28.75" fill="#089981" opacity="0.85"/>
<rect x="903.90" y="353.00" width="3.8" height="22.75" fill="#089981"/>
</g>
<line x1="8" y1="339.25" x2="125" y2="325.5" stroke="#e04a5c" stroke-width="1.6"/>
<line x1="8" y1="395.5" x2="130" y2="393.75" stroke="#3b63cc" stroke-width="1.6"/>
</g>
<text x="192.60" y="341.60" font-size="10.6" fill="#cf5560" font-weight="normal" textLength="52.60" lengthAdjust="spacingAndGlyphs" stroke="#cf5560" stroke-width="0.15">50-day SMA</text>
<text x="189.30" y="392.20" font-size="10.6" fill="#4470bd" font-weight="normal" textLength="53.50" lengthAdjust="spacingAndGlyphs" stroke="#4470bd" stroke-width="0.15">21-day SMA</text>
<text x="7.30" y="14.50" font-size="9.3" fill="#1f232e" font-weight="normal" textLength="52.50" lengthAdjust="spacingAndGlyphs" stroke="#1f232e" stroke-width="0.4">edithchuama</text>
<text x="63.30" y="14.50" font-size="9.3" fill="#1f232e" font-weight="normal" textLength="30.40" lengthAdjust="spacingAndGlyphs" stroke="#1f232e" stroke-width="0.4">created</text>
<text x="97.40" y="14.50" font-size="9.3" fill="#1f232e" font-weight="normal" textLength="16.10" lengthAdjust="spacingAndGlyphs" stroke="#1f232e" stroke-width="0.4">with</text>
<text x="118.10" y="14.50" font-size="9.3" fill="#1f232e" font-weight="normal" textLength="69.20" lengthAdjust="spacingAndGlyphs" stroke="#1f232e" stroke-width="0.4">TradingView.com,</text>
<text x="192.30" y="14.50" font-size="9.3" fill="#1f232e" font-weight="normal" textLength="14.40" lengthAdjust="spacingAndGlyphs" stroke="#1f232e" stroke-width="0.4">Aug</text>
<text x="211.10" y="14.50" font-size="9.3" fill="#1f232e" font-weight="normal" textLength="10.20" lengthAdjust="spacingAndGlyphs" stroke="#1f232e" stroke-width="0.4">18,</text>
<text x="225.70" y="14.50" font-size="9.3" fill="#1f232e" font-weight="normal" textLength="18.30" lengthAdjust="spacingAndGlyphs" stroke="#1f232e" stroke-width="0.4">2025</text>
<text x="248.10" y="14.50" font-size="9.3" fill="#1f232e" font-weight="normal" textLength="20.80" lengthAdjust="spacingAndGlyphs" stroke="#1f232e" stroke-width="0.4">15:23</text>
<text x="272.80" y="14.50" font-size="9.3" fill="#1f232e" font-weight="normal" textLength="15.60" lengthAdjust="spacingAndGlyphs" stroke="#1f232e" stroke-width="0.4">UTC</text>
<circle cx="99.9" cy="31.6" r="0.95" fill="#1f232e"/><circle cx="118.8" cy="31.6" r="0.95" fill="#1f232e"/>
<line x1="45.6" y1="35.8" x2="48.3" y2="28" stroke="#1f232e" stroke-width="0.9"/>
<text x="13.60" y="34.75" font-size="9.9" fill="#1f232e" font-weight="normal" textLength="27.90" lengthAdjust="spacingAndGlyphs" stroke="#1f232e" stroke-width="0.2">Bitcoin</text>
<text x="52.00" y="34.75" font-size="9.9" fill="#1f232e" font-weight="normal" textLength="16.10" lengthAdjust="spacingAndGlyphs" stroke="#1f232e" stroke-width="0.2">U.S.</text>
<text x="71.80" y="34.75" font-size="9.9" fill="#1f232e" font-weight="normal" textLength="23.40" lengthAdjust="spacingAndGlyphs" stroke="#1f232e" stroke-width="0.2">Dollar</text>
<text x="104.30" y="34.75" font-size="9.9" fill="#1f232e" font-weight="normal" textLength="9.70" lengthAdjust="spacingAndGlyphs" stroke="#1f232e" stroke-width="0.2">4h</text>
<text x="123.50" y="34.75" font-size="9.9" fill="#1f232e" font-weight="normal" textLength="37.80" lengthAdjust="spacingAndGlyphs" stroke="#1f232e" stroke-width="0.2">BITSTAMP</text>
<text x="167.40" y="34.75" font-size="9.9" fill="#1f232e" font-weight="normal" textLength="5.90" lengthAdjust="spacingAndGlyphs" stroke="#1f232e" stroke-width="0.2">O</text>
<text x="174.40" y="34.75" font-size="9.9" fill="#089981" font-weight="normal" textLength="30.10" lengthAdjust="spacingAndGlyphs" stroke="#089981" stroke-width="0.2">115,005</text>
<text x="211.10" y="34.75" font-size="9.9" fill="#1f232e" font-weight="normal" textLength="4.80" lengthAdjust="spacingAndGlyphs" stroke="#1f232e" stroke-width="0.2">H</text>
<text x="217.20" y="34.75" font-size="9.9" fill="#089981" font-weight="normal" textLength="30.50" lengthAdjust="spacingAndGlyphs" stroke="#089981" stroke-width="0.2">115,784</text>
<text x="254.40" y="34.75" font-size="9.9" fill="#1f232e" font-weight="normal" textLength="4.00" lengthAdjust="spacingAndGlyphs" stroke="#1f232e" stroke-width="0.2">L</text>
<text x="259.00" y="34.75" font-size="9.9" fill="#089981" font-weight="normal" textLength="31.30" lengthAdjust="spacingAndGlyphs" stroke="#089981" stroke-width="0.2">114,899</text>
<text x="296.25" y="34.75" font-size="9.9" fill="#1f232e" font-weight="normal" textLength="4.35" lengthAdjust="spacingAndGlyphs" stroke="#1f232e" stroke-width="0.2">C</text>
<text x="301.70" y="34.75" font-size="9.9" fill="#089981" font-weight="normal" textLength="31.30" lengthAdjust="spacingAndGlyphs" stroke="#089981" stroke-width="0.2">115,704</text>
<text x="338.90" y="34.75" font-size="9.9" fill="#089981" font-weight="normal" textLength="18.00" lengthAdjust="spacingAndGlyphs" stroke="#089981" stroke-width="0.2">+699</text>
<text x="361.10" y="34.75" font-size="9.9" fill="#089981" font-weight="normal" textLength="33.60" lengthAdjust="spacingAndGlyphs" stroke="#089981" stroke-width="0.2">(+0.61%)</text>
<text x="13.60" y="47.75" font-size="9.7" fill="#1f232e" font-weight="normal" textLength="15.40" lengthAdjust="spacingAndGlyphs" stroke="#1f232e" stroke-width="0.2">SMA</text>
<text x="33.40" y="47.75" font-size="9.7" fill="#1f232e" font-weight="normal" textLength="14.20" lengthAdjust="spacingAndGlyphs" stroke="#1f232e" stroke-width="0.2">(21,</text>
<text x="52.00" y="47.75" font-size="9.7" fill="#1f232e" font-weight="normal" textLength="23.00" lengthAdjust="spacingAndGlyphs" stroke="#1f232e" stroke-width="0.2">close)</text>
<text x="81.30" y="47.75" font-size="9.7" fill="#4476cf" font-weight="normal" textLength="31.20" lengthAdjust="spacingAndGlyphs" stroke="#4476cf" stroke-width="0.2">117,362</text>
<text x="13.60" y="60.55" font-size="9.7" fill="#1f232e" font-weight="normal" textLength="15.40" lengthAdjust="spacingAndGlyphs" stroke="#1f232e" stroke-width="0.2">SMA</text>
<text x="33.40" y="60.55" font-size="9.7" fill="#1f232e" font-weight="normal" textLength="14.20" lengthAdjust="spacingAndGlyphs" stroke="#1f232e" stroke-width="0.2">(50,</text>
<text x="52.00" y="60.55" font-size="9.7" fill="#1f232e" font-weight="normal" textLength="23.00" lengthAdjust="spacingAndGlyphs" stroke="#1f232e" stroke-width="0.2">close)</text>
<text x="81.30" y="60.55" font-size="9.7" fill="#d2445a" font-weight="normal" textLength="31.20" lengthAdjust="spacingAndGlyphs" stroke="#d2445a" stroke-width="0.2">118,889</text>
<clipPath id="axis"><rect x="969" y="21" width="47" height="514"/></clipPath>
<g clip-path="url(#axis)">
<text x="976.80" y="506.32" font-size="8.9" fill="#2a2e39" font-weight="normal" textLength="31.00" lengthAdjust="spacingAndGlyphs" stroke="#2a2e39" stroke-width="0.2">111,000</text>
<text x="976.80" y="474.19" font-size="8.9" fill="#2a2e39" font-weight="normal" textLength="31.00" lengthAdjust="spacingAndGlyphs" stroke="#2a2e39" stroke-width="0.2">112,000</text>
<text x="976.80" y="442.06" font-size="8.9" fill="#2a2e39" font-weight="normal" textLength="31.00" lengthAdjust="spacingAndGlyphs" stroke="#2a2e39" stroke-width="0.2">113,000</text>
<text x="976.80" y="409.93" font-size="8.9" fill="#2a2e39" font-weight="normal" textLength="31.00" lengthAdjust="spacingAndGlyphs" stroke="#2a2e39" stroke-width="0.2">114,000</text>
<text x="976.80" y="377.80" font-size="8.9" fill="#2a2e39" font-weight="normal" textLength="31.00" lengthAdjust="spacingAndGlyphs" stroke="#2a2e39" stroke-width="0.2">115,000</text>
<text x="976.80" y="345.67" font-size="8.9" fill="#2a2e39" font-weight="normal" textLength="31.00" lengthAdjust="spacingAndGlyphs" stroke="#2a2e39" stroke-width="0.2">116,000</text>
<text x="976.80" y="313.54" font-size="8.9" fill="#2a2e39" font-weight="normal" textLength="31.00" lengthAdjust="spacingAndGlyphs" stroke="#2a2e39" stroke-width="0.2">117,000</text>
<text x="976.80" y="281.41" font-size="8.9" fill="#2a2e39" font-weight="normal" textLength="31.00" lengthAdjust="spacingAndGlyphs" stroke="#2a2e39" stroke-width="0.2">118,000</text>
<text x="976.80" y="249.28" font-size="8.9" fill="#2a2e39" font-weight="normal" textLength="31.00" lengthAdjust="spacingAndGlyphs" stroke="#2a2e39" stroke-width="0.2">119,000</text>
<text x="976.80" y="217.15" font-size="8.9" fill="#2a2e39" font-weight="normal" textLength="31.00" lengthAdjust="spacingAndGlyphs" stroke="#2a2e39" stroke-width="0.2">120,000</text>
<text x="976.80" y="185.02" font-size="8.9" fill="#2a2e39" font-weight="normal" textLength="31.00" lengthAdjust="spacingAndGlyphs" stroke="#2a2e39" stroke-width="0.2">121,000</text>
<text x="976.80" y="152.89" font-size="8.9" fill="#2a2e39" font-weight="normal" textLength="31.00" lengthAdjust="spacingAndGlyphs" stroke="#2a2e39" stroke-width="0.2">122,000</text>
<text x="976.80" y="120.76" font-size="8.9" fill="#2a2e39" font-weight="normal" textLength="31.00" lengthAdjust="spacingAndGlyphs" stroke="#2a2e39" stroke-width="0.2">123,000</text>
<text x="976.80" y="88.63" font-size="8.9" fill="#2a2e39" font-weight="normal" textLength="31.00" lengthAdjust="spacingAndGlyphs" stroke="#2a2e39" stroke-width="0.2">124,000</text>
<text x="976.80" y="56.50" font-size="8.9" fill="#2a2e39" font-weight="normal" textLength="31.00" lengthAdjust="spacingAndGlyphs" stroke="#2a2e39" stroke-width="0.2">125,000</text>
<text x="976.80" y="24.37" font-size="8.9" fill="#2a2e39" font-weight="normal" textLength="31.00" lengthAdjust="spacingAndGlyphs" stroke="#2a2e39" stroke-width="0.2">126,000</text>
</g>
<path d="M972 244.5 H1011 a2 2 0 0 1 2 2 V254.5 a2 2 0 0 1 -2 2 H972 a2 2 0 0 1 -2 -2 V246.5 a2 2 0 0 1 2 -2 Z" fill="#F23645"/>
<text x="976.80" y="253.80" font-size="8.9" fill="#fff" font-weight="normal" textLength="31.00" lengthAdjust="spacingAndGlyphs" stroke="#fff" stroke-width="0.3">118,889</text>
<path d="M972 294 H1011 a2 2 0 0 1 2 2 V303.8 a2 2 0 0 1 -2 2 H972 a2 2 0 0 1 -2 -2 V296 a2 2 0 0 1 2 -2 Z" fill="#2962FF"/>
<text x="976.80" y="303.10" font-size="8.9" fill="#fff" font-weight="normal" textLength="31.00" lengthAdjust="spacingAndGlyphs" stroke="#fff" stroke-width="0.3">117,362</text>
<path d="M972 346.4 H1011 a2 2 0 0 1 2 2 V367.8 a2 2 0 0 1 -2 2 H972 a2 2 0 0 1 -2 -2 V348.4 a2 2 0 0 1 2 -2 Z" fill="#089981"/>
<text x="976.80" y="356.10" font-size="8.9" fill="#fff" font-weight="normal" textLength="31.00" lengthAdjust="spacingAndGlyphs" stroke="#fff" stroke-width="0.3">115,704</text>
<text x="976.80" y="366.60" font-size="8.9" fill="#d4efe8" font-weight="normal" textLength="21.70" lengthAdjust="spacingAndGlyphs" stroke="#d4efe8" stroke-width="0.15">36:57</text>
<text x="15.95" y="527.7" font-size="9" fill="#2a2e39" font-weight="normal" textLength="9.50" lengthAdjust="spacingAndGlyphs" stroke="#2a2e39" stroke-width="0.25">17</text>
<text x="70.43" y="527.7" font-size="9" fill="#2a2e39" font-weight="normal" textLength="9.50" lengthAdjust="spacingAndGlyphs" stroke="#2a2e39" stroke-width="0.25">19</text>
<text x="124.91" y="527.7" font-size="9" fill="#2a2e39" font-weight="normal" textLength="9.50" lengthAdjust="spacingAndGlyphs" stroke="#2a2e39" stroke-width="0.25">21</text>
<text x="179.39" y="527.7" font-size="9" fill="#2a2e39" font-weight="normal" textLength="9.50" lengthAdjust="spacingAndGlyphs" stroke="#2a2e39" stroke-width="0.25">23</text>
<text x="233.87" y="527.7" font-size="9" fill="#2a2e39" font-weight="normal" textLength="9.50" lengthAdjust="spacingAndGlyphs" stroke="#2a2e39" stroke-width="0.25">25</text>
<text x="288.35" y="527.7" font-size="9" fill="#2a2e39" font-weight="normal" textLength="9.50" lengthAdjust="spacingAndGlyphs" stroke="#2a2e39" stroke-width="0.25">27</text>
<text x="342.83" y="527.7" font-size="9" fill="#2a2e39" font-weight="normal" textLength="9.50" lengthAdjust="spacingAndGlyphs" stroke="#2a2e39" stroke-width="0.25">29</text>
<text x="421.15" y="527.7" font-size="9" fill="#2a2e39" font-weight="bold" textLength="15.90" lengthAdjust="spacingAndGlyphs" stroke="#2a2e39" stroke-width="0.15">Aug</text>
<text x="481.40" y="527.7" font-size="9" fill="#2a2e39" font-weight="normal" textLength="4.75" lengthAdjust="spacingAndGlyphs" stroke="#2a2e39" stroke-width="0.25">3</text>
<text x="535.88" y="527.7" font-size="9" fill="#2a2e39" font-weight="normal" textLength="4.75" lengthAdjust="spacingAndGlyphs" stroke="#2a2e39" stroke-width="0.25">5</text>
<text x="590.37" y="527.7" font-size="9" fill="#2a2e39" font-weight="normal" textLength="4.75" lengthAdjust="spacingAndGlyphs" stroke="#2a2e39" stroke-width="0.25">7</text>
<text x="644.85" y="527.7" font-size="9" fill="#2a2e39" font-weight="normal" textLength="4.75" lengthAdjust="spacingAndGlyphs" stroke="#2a2e39" stroke-width="0.25">9</text>
<text x="696.95" y="527.7" font-size="9" fill="#2a2e39" font-weight="normal" textLength="9.50" lengthAdjust="spacingAndGlyphs" stroke="#2a2e39" stroke-width="0.25">11</text>
<text x="751.43" y="527.7" font-size="9" fill="#2a2e39" font-weight="normal" textLength="9.50" lengthAdjust="spacingAndGlyphs" stroke="#2a2e39" stroke-width="0.25">13</text>
<text x="805.91" y="527.7" font-size="9" fill="#2a2e39" font-weight="normal" textLength="9.50" lengthAdjust="spacingAndGlyphs" stroke="#2a2e39" stroke-width="0.25">15</text>
<text x="860.39" y="527.7" font-size="9" fill="#2a2e39" font-weight="normal" textLength="9.50" lengthAdjust="spacingAndGlyphs" stroke="#2a2e39" stroke-width="0.25">17</text>
<text x="914.87" y="527.7" font-size="9" fill="#2a2e39" font-weight="normal" textLength="9.50" lengthAdjust="spacingAndGlyphs" stroke="#2a2e39" stroke-width="0.25">19</text>
<g transform="translate(906.2,504.8)"><circle r="7.4" fill="#fff" stroke="#9447b8" stroke-width="1.3"/><path d="M2.2 -4.6 L-3.0 0.5 H-0.3 L-2.2 4.6 L3.0 -0.5 H0.3 Z" fill="#a53ac4"/><path d="M-8.9 -1.2 Q-8.3 2.2 -4.9 2.8 Q-8.3 3.4 -8.9 6.8 Q-9.5 3.4 -12.9 2.8 Q-9.5 2.2 -8.9 -1.2Z" fill="#7155ee" stroke="#fff" stroke-width="1.1" paint-order="stroke"/></g>
<g><g transform="translate(932.3,504.3)"><circle r="7.9" fill="#fff" stroke="#dc5560" stroke-width="1.2"/><clipPath id="fc1"><circle r="6"/></clipPath><g clip-path="url(#fc1)"><rect x="-6" y="-6" width="12" height="12" fill="#fff"/><rect x="-6" y="-4.6" width="12" height="1.3" fill="#ee6a70"/><rect x="-6" y="-1.3" width="12" height="2.8" fill="#e8545e"/><rect x="-6" y="3.6" width="12" height="2.4" fill="#e8545e"/><rect x="-6" y="-6" width="8.1" height="7.5" fill="#4f97ea"/><path d="M-4.6 -6 V1.5 M-2.9 -6 V1.5 M-1.2 -6 V1.5 M0.5 -6 V1.5 M-6 -3.8 H2.1 M-6 -2.0 H2.1 M-6 -0.2 H2.1" stroke="#8fc0f5" stroke-width="0.45" fill="none"/></g></g></g>
<clipPath id="fclip"><rect x="940" y="490" width="29.8" height="30"/></clipPath>
<g clip-path="url(#fclip)"><g transform="translate(963.9,504.3)"><circle r="7.9" fill="#fff" stroke="#dc5560" stroke-width="1.2"/><clipPath id="fc2"><circle r="6"/></clipPath><g clip-path="url(#fc2)"><rect x="-6" y="-6" width="12" height="12" fill="#fff"/><rect x="-6" y="-4.6" width="12" height="1.3" fill="#ee6a70"/><rect x="-6" y="-1.3" width="12" height="2.8" fill="#e8545e"/><rect x="-6" y="3.6" width="12" height="2.4" fill="#e8545e"/><rect x="-6" y="-6" width="8.1" height="7.5" fill="#4f97ea"/><path d="M-4.6 -6 V1.5 M-2.9 -6 V1.5 M-1.2 -6 V1.5 M0.5 -6 V1.5 M-6 -3.8 H2.1 M-6 -2.0 H2.1 M-6 -0.2 H2.1" stroke="#8fc0f5" stroke-width="0.45" fill="none"/></g></g></g>
<g fill="#16181d"><path d="M9.1 552.4 H18.4 V563.2 H13.5 V557.3 H9.1 Z"/><circle cx="21.8" cy="554.6" r="2.2"/><path d="M25.2 552.4 H31.2 L26.7 563.2 H20.9 Z"/></g>
<text x="36.80" y="563.20" font-size="14.8" fill="#16181d" font-weight="normal" textLength="91.50" lengthAdjust="spacingAndGlyphs" stroke="#16181d" stroke-width="0.85">TradingView</text>
</svg></body></html>
